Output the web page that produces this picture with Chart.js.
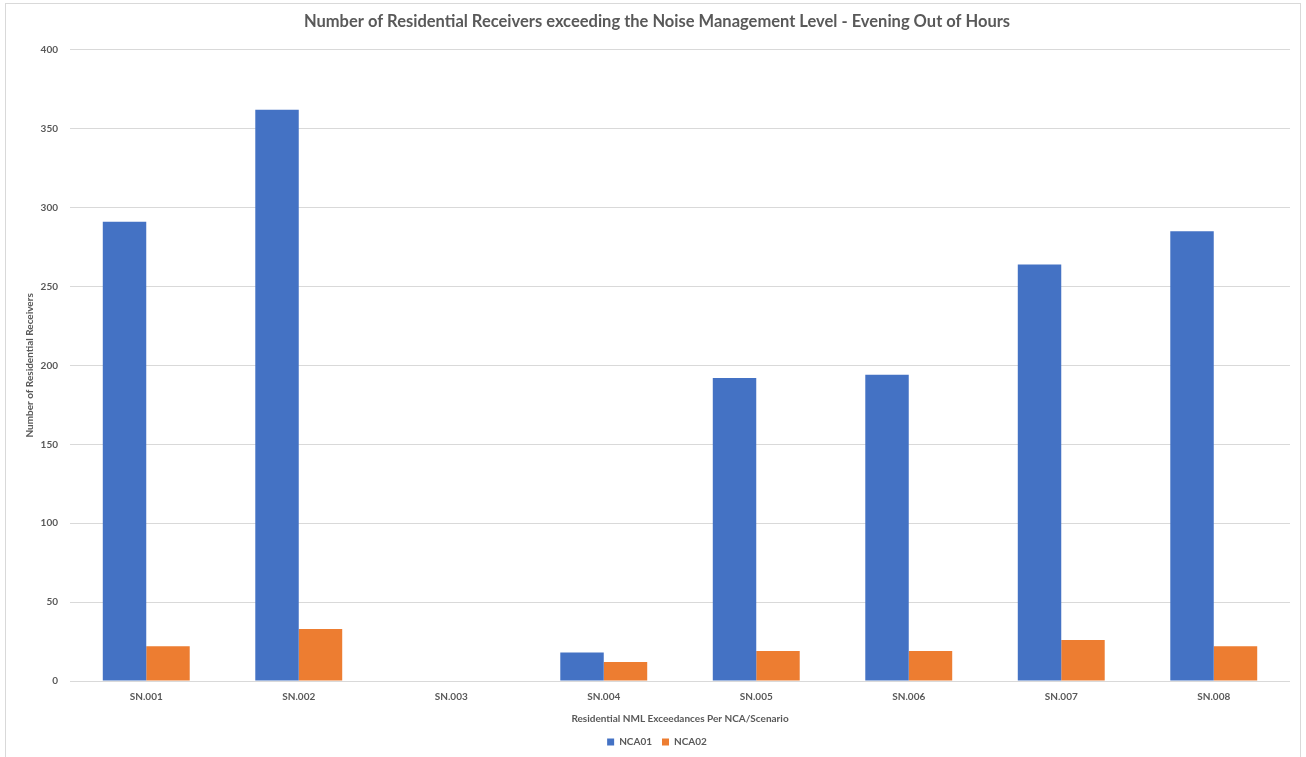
<!DOCTYPE html>
<html>
<head>
<meta charset="utf-8">
<script src="https://cdn.jsdelivr.net/npm/chart.js@4/dist/chart.umd.min.js"></script>
<style>
  html, body { margin: 0; padding: 0; background: #fff; }
  #wrap { width: 1306px; height: 757px; position: relative; }
</style>
</head>
<body>
<div id="wrap"><canvas id="c" width="1306" height="757"></canvas></div>
<script>
const categories = ["SN.001", "SN.002", "SN.003", "SN.004", "SN.005", "SN.006", "SN.007", "SN.008"];
const nca01 = [291, 362, 0, 18, 192, 194, 264, 285];
const nca02 = [22, 33, 0, 12, 19, 19, 26, 22];
const seriesNames = ["NCA01", "NCA02"];
const chartTitle = "Number of Residential Receivers exceeding the Noise Management Level - Evening Out of Hours";
const xTitle = "Residential NML Exceedances Per NCA/Scenario";
const yTitle = "Number of Residential Receivers";

const FONT = "Lato, 'Open Sans', sans-serif";
const GREY = "#595959";

const frame = {
  id: 'frame',
  beforeDraw(chart) {
    const ctx = chart.ctx;
    ctx.save();
    ctx.fillStyle = '#ffffff';
    ctx.fillRect(0, 0, chart.width, chart.height);
    ctx.strokeStyle = '#d9d9d9';
    ctx.lineWidth = 1;
    ctx.strokeRect(5.5, 3.5, 1295, 800);
    ctx.restore();
  }
};

new Chart(document.getElementById('c'), {
  type: 'bar',
  data: {
    labels: categories,
    datasets: [
      { label: seriesNames[0], data: nca01, backgroundColor: '#4472C4', borderWidth: 0 },
      { label: seriesNames[1], data: nca02, backgroundColor: '#ED7D31', borderWidth: 0 }
    ]
  },
  plugins: [frame],
  options: {
    responsive: false,
    animation: false,
    devicePixelRatio: 1,
    layout: { padding: { left: 24, right: 16, top: 0, bottom: 0 } },
    datasets: { bar: { categoryPercentage: 0.57, barPercentage: 1.0 } },
    plugins: {
      title: {
        display: true,
        text: chartTitle,
        color: GREY,
        font: { family: FONT, size: 16.5, weight: 'bold' },
        padding: { top: 12, bottom: 18 }
      },
      legend: {
        position: 'bottom',
        labels: {
          color: GREY,
          font: { family: FONT, size: 10, weight: 'bold' },
          boxWidth: 7,
          boxHeight: 7,
          padding: 10
        }
      },
      tooltip: { enabled: false }
    },
    scales: {
      x: {
        grid: { display: false, drawTicks: false },
        border: { display: false },
        ticks: { color: GREY, font: { family: FONT, size: 10, weight: 'bold' }, padding: 10, maxRotation: 0 },
        title: { display: true, text: xTitle, color: GREY, font: { family: FONT, size: 10, weight: 'bold' }, padding: { top: 4, bottom: 2 } },
        afterFit(s) { s.height = 46; }
      },
      y: {
        min: 0, max: 400,
        ticks: { stepSize: 50, color: GREY, font: { family: FONT, size: 10, weight: 'bold' }, padding: 12 },
        grid: { color: '#d9d9d9', lineWidth: 1, drawTicks: false },
        border: { display: false },
        title: { display: true, text: yTitle, color: GREY, font: { family: FONT, size: 10, weight: 'bold' }, padding: { top: 0, bottom: 0 } },
        afterFit(s) { s.width = 46; }
      }
    }
  }
});
</script>
</body>
</html>
